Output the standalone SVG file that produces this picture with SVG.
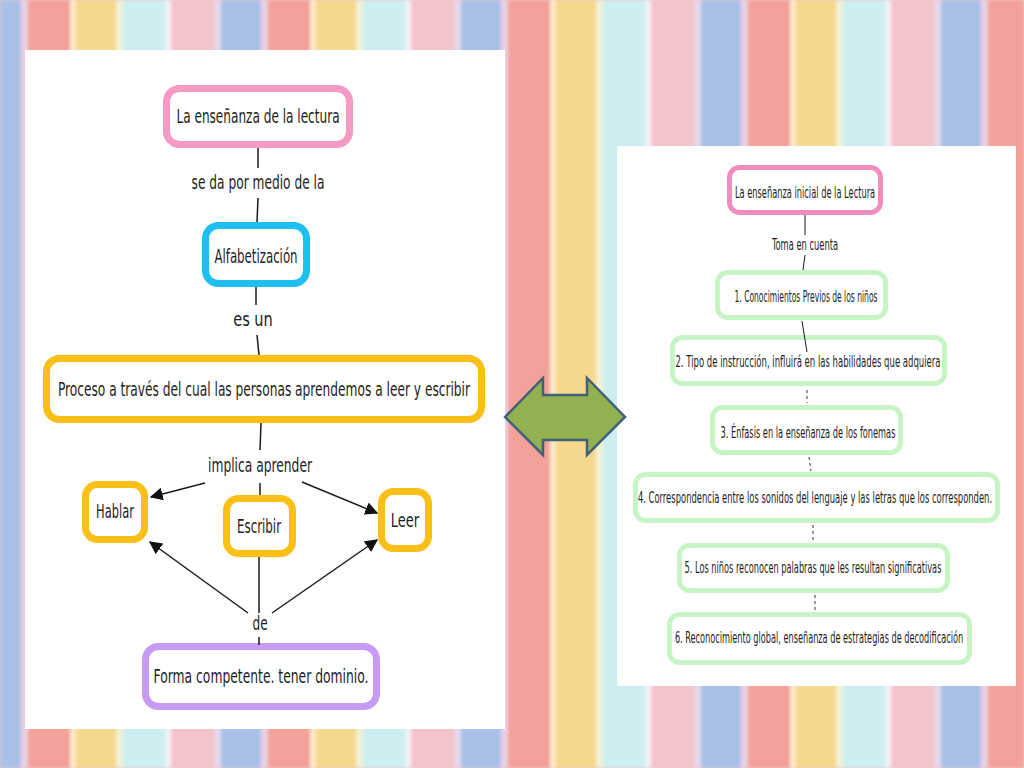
<svg xmlns="http://www.w3.org/2000/svg" width="1024" height="768" viewBox="0 0 1024 768">
<defs>
<pattern id="stripes" patternUnits="userSpaceOnUse" x="28" y="0" width="240" height="768">
<rect x="0" y="0" width="42" height="768" fill="#F3A29A"/>
<rect x="42" y="0" width="6" height="768" fill="#FBE8C6"/>
<rect x="48" y="0" width="40" height="768" fill="#F4D98D"/>
<rect x="88" y="0" width="7" height="768" fill="#EFF2D4"/>
<rect x="95" y="0" width="42" height="768" fill="#CDEEF0"/>
<rect x="137" y="0" width="6" height="768" fill="#EEF2F6"/>
<rect x="143" y="0" width="43" height="768" fill="#F5C4CA"/>
<rect x="186" y="0" width="7" height="768" fill="#E5D5EA"/>
<rect x="193" y="0" width="40" height="768" fill="#A9C1E8"/>
<rect x="233" y="0" width="7" height="768" fill="#EBCFDF"/>
</pattern>
<filter id="soft" x="-2%" y="-2%" width="104%" height="104%">
<feGaussianBlur stdDeviation="1.5"/>
</filter>
<marker id="arr" viewBox="0 0 10 10" refX="9" refY="5" markerWidth="13" markerHeight="13" markerUnits="userSpaceOnUse" orient="auto">
<path d="M0,0 L10,5 L0,10 z" fill="#111"/>
</marker>
</defs>
<style>
.bg{fill:url(#stripes)}
.panel{fill:#FFFFFF}
.nodeL{fill:#FFFFFF;stroke-width:7}
.nodeR{fill:#FFFFFF;stroke-width:5}
.pink{stroke:#F49AC3}
.cyan{stroke:#1FBFF0}
.yellow{stroke:#FBC017}
.purple{stroke:#C79AF3}
.green{stroke:#C6F4C4}
.pinkR{stroke:#F08DBE}
.tl{font-family:"DejaVu Sans Condensed","DejaVu Sans","Liberation Sans",sans-serif;font-size:19px;fill:#1E1E1E;text-anchor:middle}
.tr{font-family:"DejaVu Sans Condensed","DejaVu Sans","Liberation Sans",sans-serif;font-size:15px;fill:#1E1E1E;text-anchor:middle}
.ln{stroke:#1A1A1A;stroke-width:1.5;fill:none}
.lnr{stroke:#1A1A1A;stroke-width:1;fill:none}
.dash{stroke:#333;stroke-width:1;fill:none;stroke-dasharray:3 3}
</style>
<rect x="0" y="0" width="1024" height="768" fill="#F0C8C8"/>
<rect class="bg" x="0" y="0" width="1024" height="768" filter="url(#soft)"/>
<rect class="panel" x="25" y="50" width="480" height="679"/>
<rect class="panel" x="617" y="146" width="399" height="540"/>

<g id="double-arrow">
<polygon points="505,417 543,378 543,395 587,395 587,378 625,417 587,455 587,440 543,440 543,455" fill="#92B150" stroke="#41607A" stroke-width="2.5" stroke-linejoin="miter"/>
</g>

<g id="n-ensenanza">
<rect class="nodeL pink" x="166.5" y="88.5" width="183" height="56" rx="13"/>
<text class="tl" transform="translate(258,123) scale(0.63,1)" textLength="259" lengthAdjust="spacingAndGlyphs">La enseñanza de la lectura</text>
</g>
<g id="n-alfabetizacion">
<rect class="nodeL cyan" x="205.5" y="225.5" width="101" height="58" rx="13"/>
<text class="tl" transform="translate(256,263) scale(0.63,1)" textLength="132" lengthAdjust="spacingAndGlyphs">Alfabetización</text>
</g>
<g id="n-proceso">
<rect class="nodeL yellow" x="46.5" y="358.5" width="435" height="61" rx="13"/>
<text class="tl" transform="translate(264,396) scale(0.63,1)" textLength="654" lengthAdjust="spacingAndGlyphs">Proceso a través del cual las personas aprendemos a leer y escribir</text>
</g>
<g id="n-hablar">
<rect class="nodeL yellow" x="85.5" y="484.5" width="59" height="55" rx="12"/>
<text class="tl" transform="translate(115,518) scale(0.63,1)" textLength="60" lengthAdjust="spacingAndGlyphs">Hablar</text>
</g>
<g id="n-escribir">
<rect class="nodeL yellow" x="226.5" y="498.5" width="66" height="55" rx="12"/>
<text class="tl" transform="translate(259,533) scale(0.63,1)" textLength="70" lengthAdjust="spacingAndGlyphs">Escribir</text>
</g>
<g id="n-leer">
<rect class="nodeL yellow" x="381.5" y="491.5" width="47" height="57" rx="12"/>
<text class="tl" transform="translate(405,527) scale(0.63,1)" textLength="45" lengthAdjust="spacingAndGlyphs">Leer</text>
</g>
<g id="n-forma">
<rect class="nodeL purple" x="145.5" y="646.5" width="231" height="60" rx="13"/>
<text class="tl" transform="translate(261,683) scale(0.63,1)" textLength="341" lengthAdjust="spacingAndGlyphs">Forma competente. tener dominio.</text>
</g>

<g id="r-ensenanza">
<rect class="nodeR pinkR" x="729.5" y="167.5" width="151" height="45" rx="10"/>
<text class="tr" transform="translate(805,198) scale(0.55,1)" textLength="255" lengthAdjust="spacingAndGlyphs">La enseñanza inicial de la Lectura</text>
</g>
<g id="r-n1">
<rect class="nodeR green" x="717.5" y="272.5" width="168" height="45" rx="10"/>
<text class="tr" transform="translate(806,302) scale(0.55,1)" textLength="260" lengthAdjust="spacingAndGlyphs">1. Conocimientos Previos de los niños</text>
</g>
<g id="r-n2">
<rect class="nodeR green" x="672.5" y="337.5" width="272" height="46" rx="10"/>
<text class="tr" transform="translate(808,367) scale(0.55,1)" textLength="482" lengthAdjust="spacingAndGlyphs">2. Tipo de instrucción, influirá en las habilidades que adquiera</text>
</g>
<g id="r-n3">
<rect class="nodeR green" x="712.5" y="407.5" width="188" height="45" rx="10"/>
<text class="tr" transform="translate(808,438) scale(0.55,1)" textLength="318" lengthAdjust="spacingAndGlyphs">3. Énfasis en la enseñanza de los fonemas</text>
</g>
<g id="r-n4">
<rect class="nodeR green" x="635.5" y="474.5" width="362" height="46" rx="10"/>
<text class="tr" transform="translate(815,503) scale(0.55,1)" textLength="644" lengthAdjust="spacingAndGlyphs">4. Correspondencia entre los sonidos del lenguaje y las letras que los corresponden.</text>
</g>
<g id="r-n5">
<rect class="nodeR green" x="679.5" y="545.5" width="268" height="45" rx="10"/>
<text class="tr" transform="translate(813,573) scale(0.55,1)" textLength="467" lengthAdjust="spacingAndGlyphs">5. Los niños reconocen palabras que les resultan significativas</text>
</g>
<g id="r-n6">
<rect class="nodeR green" x="669.5" y="614.5" width="300" height="48" rx="10"/>
<text class="tr" transform="translate(819,643) scale(0.55,1)" textLength="524" lengthAdjust="spacingAndGlyphs">6. Reconocimiento global, enseñanza de estrategias de decodificación</text>
</g>

<g id="connectors">
<line class="ln" x1="258" y1="148" x2="258" y2="168"/>
<text class="tl" transform="translate(258,189) scale(0.63,1)" textLength="211" lengthAdjust="spacingAndGlyphs">se da por medio de la</text>
<line class="ln" x1="258" y1="198" x2="257" y2="222"/>
<line class="ln" x1="256" y1="287" x2="256" y2="305"/>
<text class="tl" transform="translate(253,326) scale(0.63,1)" textLength="63" lengthAdjust="spacingAndGlyphs">es un</text>
<line class="ln" x1="257" y1="335" x2="259" y2="355"/>
<line class="ln" x1="261" y1="423" x2="260" y2="450"/>
<text class="tl" transform="translate(260,472) scale(0.63,1)" textLength="165" lengthAdjust="spacingAndGlyphs">implica aprender</text>
<line class="ln" x1="260" y1="483" x2="260" y2="495"/>
<line class="ln" x1="205" y1="483" x2="151" y2="497" marker-end="url(#arr)"/>
<line class="ln" x1="302" y1="482" x2="377" y2="513" marker-end="url(#arr)"/>
<line class="ln" x1="259" y1="557" x2="259" y2="613"/>
<line class="ln" x1="248" y1="613" x2="150" y2="542" marker-end="url(#arr)"/>
<line class="ln" x1="272" y1="613" x2="377" y2="540" marker-end="url(#arr)"/>
<text class="tl" transform="translate(260,630) scale(0.63,1)" textLength="24" lengthAdjust="spacingAndGlyphs">de</text>
<line class="ln" x1="259" y1="637" x2="259" y2="645"/>

<line class="lnr" x1="805" y1="215" x2="805" y2="235"/>
<text class="tr" transform="translate(805,250) scale(0.55,1)" textLength="120" lengthAdjust="spacingAndGlyphs">Toma en cuenta</text>
<line class="lnr" x1="805" y1="255" x2="803" y2="270"/>
<line class="lnr" x1="802" y1="321" x2="807" y2="352"/>
<line class="dash" x1="807" y1="390" x2="807" y2="403"/>
<line class="dash" x1="809" y1="457" x2="811" y2="471"/>
<line class="dash" x1="813" y1="525" x2="813" y2="542"/>
<line class="dash" x1="815" y1="595" x2="815" y2="611"/>
</g>
</svg>
